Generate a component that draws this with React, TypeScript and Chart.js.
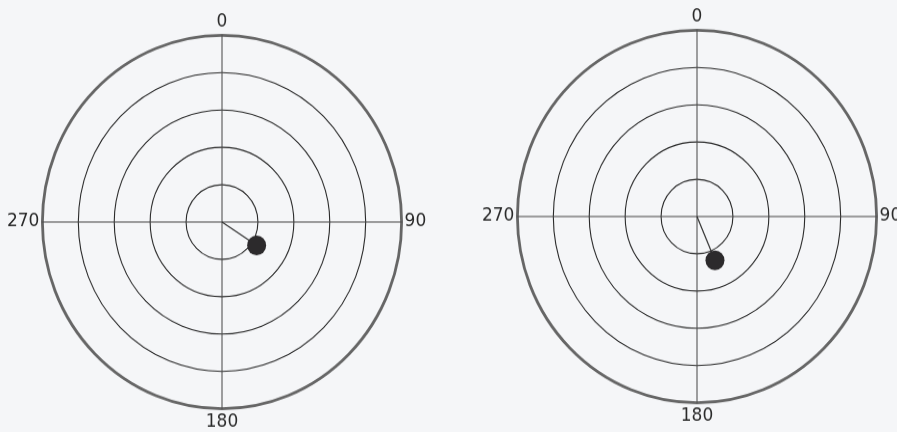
import React, { useEffect, useRef } from 'react';
import { Chart, registerables } from 'chart.js';

Chart.register(...registerables);

// Angular categories: one per degree (clockwise from north)
const DEGREES: string[] = Array.from({ length: 360 }, (_, i) => String(i));
// Tick labels shown around each plot
const AXIS_LABELS: string[] = ['0', '90', '180', '270'];
// Radial range and ring step
const RING_MAX = 5;
const RING_STEP = 1;
// One vector per plot: direction (degrees) and magnitude (ring units)
const POINT_ANGLE: number[] = [123, 157];
const POINT_RADIUS: number[] = [1.15, 1.28];

// the scanned page is slightly stretched vertically
const V_STRETCH = 1.039;
const CANVAS_W = 480;
const CANVAS_H = 406;
const PLOT_BOXES = [
  { left: -18, top: 11 },
  { left: 457, top: 5.5 },
];

function PolarPlot({ index }: { index: number }) {
  const ref = useRef<HTMLCanvasElement | null>(null);
  const box = PLOT_BOXES[index];

  useEffect(() => {
    if (!ref.current) return;
    const angle = POINT_ANGLE[index];
    const radius = POINT_RADIUS[index];
    const prev = (angle + 359) % 360;
    const data = DEGREES.map((_, i) => (i === angle ? radius : i === prev ? 0 : null));

    const chart = new Chart(ref.current, {
      type: 'radar',
      data: {
        labels: DEGREES,
        datasets: [
          {
            data,
            borderColor: '#333333',
            borderWidth: 1.2,
            backgroundColor: 'rgba(0,0,0,0)',
            fill: false,
            tension: 0,
            spanGaps: false,
            pointRadius: (ctx: any) => (ctx.dataIndex === angle ? 9.5 : 0),
            pointHoverRadius: (ctx: any) => (ctx.dataIndex === angle ? 9.5 : 0),
            pointBackgroundColor: '#2c2a2c',
            pointBorderColor: '#2c2a2c',
            pointBorderWidth: 0,
          },
        ],
      },
      options: {
        responsive: false,
        animation: false,
        devicePixelRatio: 1,
        events: [],
        plugins: {
          legend: { display: false },
          tooltip: { enabled: false },
        },
        scales: {
          r: {
            min: 0,
            max: RING_MAX,
            beginAtZero: true,
            ticks: { display: false, stepSize: RING_STEP },
            grid: {
              circular: true,
              color: (ctx: any) => (ctx.tick && ctx.tick.value === RING_MAX ? '#666666' : '#2a2a2a'),
              lineWidth: (ctx: any) => (ctx.tick && ctx.tick.value === RING_MAX ? 2.8 : 1.1),
            },
            angleLines: {
              display: true,
              color: '#444444',
              lineWidth: (ctx: any) => (AXIS_LABELS.includes(DEGREES[ctx.index]) ? 1 : 0),
            },
            pointLabels: {
              display: true,
              padding: 3,
              color: '#2a2a2a',
              font: { family: 'DejaVu Sans', size: 17 },
              callback: (label: string) => (AXIS_LABELS.includes(label) ? label : ''),
            },
          },
        },
      },
    });
    return () => chart.destroy();
  }, [index]);

  return (
    <div style={{ position: 'absolute', left: box.left, top: box.top }}>
      <canvas
        ref={ref}
        width={CANVAS_W}
        height={CANVAS_H}
        style={{ display: 'block', width: CANVAS_W + 'px', height: CANVAS_H * V_STRETCH + 'px' }}
      />
    </div>
  );
}

export default function App() {
  return (
    <div
      style={{
        position: 'absolute',
        left: 0,
        top: 0,
        width: 897,
        height: 432,
        overflow: 'hidden',
        background: '#f5f6f8',
      }}
    >
      <PolarPlot index={0} />
      <PolarPlot index={1} />
    </div>
  );
}
